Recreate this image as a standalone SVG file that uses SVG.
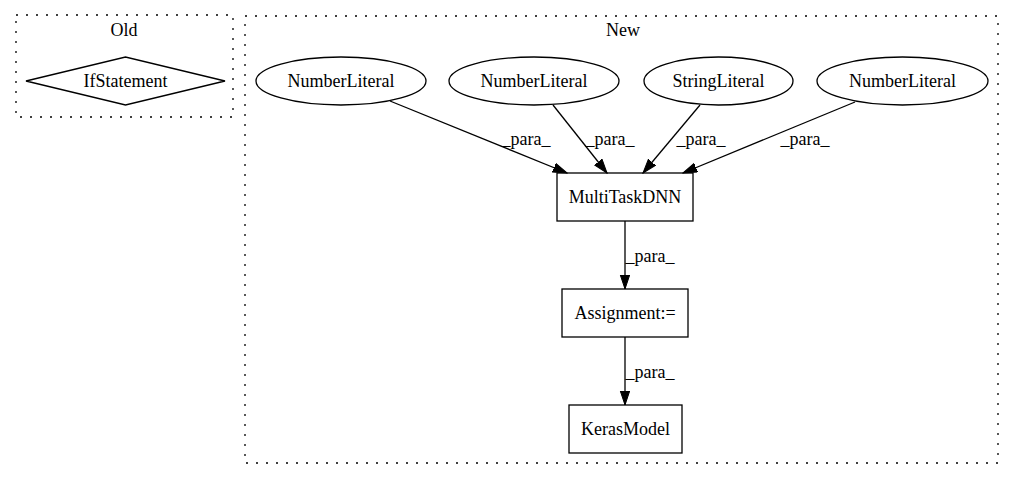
<svg xmlns="http://www.w3.org/2000/svg" width="1015" height="480" viewBox="0 0 1015 480">
<style>
text{font-family:"Liberation Serif","Times New Roman",serif;font-size:18px;fill:#000;text-anchor:middle}
.cluster{fill:none;stroke:#000;stroke-width:1.3;stroke-dasharray:2,8}
.node{fill:#fff;stroke:#000;stroke-width:1.3}
.edge{fill:none;stroke:#000;stroke-width:1.3;marker-end:url(#arrow)}
</style>
<defs>
<marker id="arrow" markerUnits="userSpaceOnUse" markerWidth="15" markerHeight="11" refX="14" refY="5" orient="auto">
<path d="M0,0.3 L14,5 L0,9.7 z" fill="#000" stroke="#000" stroke-width="1"/>
</marker>
</defs>
<rect width="1015" height="480" fill="#fff"/>
<g id="cluster_old">
<rect class="cluster" x="16" y="15" width="217" height="102"/>
<text x="124" y="36">Old</text>
</g>
<g id="cluster_new">
<rect class="cluster" x="245" y="16" width="753" height="447"/>
<text x="623" y="36">New</text>
</g>
<g id="node_ifstatement">
<polygon class="node" points="26,81 125.5,57 225,81 125.5,105"/>
<text x="125.5" y="87">IfStatement</text>
</g>
<g id="node_num1">
<ellipse class="node" cx="341" cy="81" rx="85" ry="24"/>
<text x="341" y="87">NumberLiteral</text>
</g>
<g id="node_num2">
<ellipse class="node" cx="534" cy="81" rx="85" ry="24"/>
<text x="534" y="87">NumberLiteral</text>
</g>
<g id="node_str">
<ellipse class="node" cx="718.5" cy="81" rx="74.5" ry="24"/>
<text x="718.5" y="87">StringLiteral</text>
</g>
<g id="node_num3">
<ellipse class="node" cx="902.5" cy="81" rx="85.5" ry="24"/>
<text x="902.5" y="87">NumberLiteral</text>
</g>
<g id="node_multitask">
<rect class="node" x="557" y="173" width="136" height="48"/>
<text x="625" y="203">MultiTaskDNN</text>
</g>
<g id="node_assign">
<rect class="node" x="562" y="289" width="126" height="48"/>
<text x="625" y="319">Assignment:=</text>
</g>
<g id="node_keras">
<rect class="node" x="569" y="405" width="113" height="48"/>
<text x="625.5" y="435">KerasModel</text>
</g>
<g id="connectors">
<path class="edge" d="M390,101 L567,173"/>
<text x="526" y="145">_para_</text>
<path class="edge" d="M553,105 L607,173"/>
<text x="610" y="145">_para_</text>
<path class="edge" d="M700,105 L643,173"/>
<text x="701" y="145">_para_</text>
<path class="edge" d="M855,102 L683,173"/>
<text x="805" y="145">_para_</text>
<path class="edge" d="M625,221 L625,289"/>
<text x="650" y="262">_para_</text>
<path class="edge" d="M625,337 L625,405"/>
<text x="650" y="378">_para_</text>
</g>
</svg>
